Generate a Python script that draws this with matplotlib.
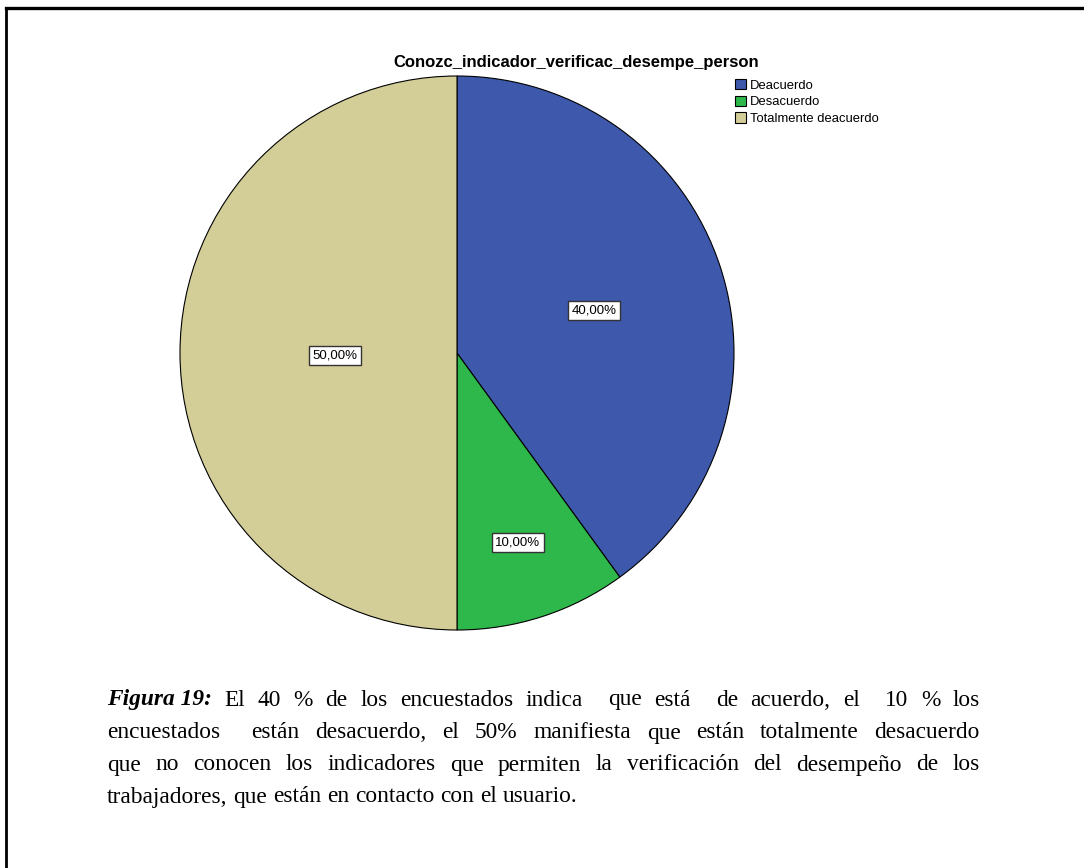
import numpy as np
import matplotlib
matplotlib.use("Agg")
import matplotlib.pyplot as plt
from matplotlib.patches import Patch
from matplotlib.lines import Line2D

# Data
categories = ["Deacuerdo", "Desacuerdo", "Totalmente deacuerdo"]
percentages = [40.0, 10.0, 50.0]
slice_colors = ["#3E58AC", "#2EB84B", "#D3CE97"]
label_distance = [0.52, 0.71, 0.44]
title_text = "Conozc_indicador_verificac_desempe_person"
caption_head = "Figura 19:"
caption_lines = [
    "El 40 % de los encuestados indica  que está  de acuerdo, el  10 % los",
    "encuestados  están desacuerdo, el 50% manifiesta que están totalmente desacuerdo",
    "que no conocen los indicadores que permiten la verificación del desempeño de los",
    "trabajadores, que están en contacto con el usuario.",
]

W, H = 1084, 868
fig = plt.figure(figsize=(W / 100, H / 100), dpi=100)
fig.patch.set_facecolor("white")

# Page frame (top and left edges)
fig.add_artist(Line2D([6 / W, 1.0], [1 - 7.5 / H, 1 - 7.5 / H], color="black", lw=2.4,
                      transform=fig.transFigure))
fig.add_artist(Line2D([6 / W, 6 / W], [0.0, 1 - 7.5 / H], color="black", lw=2.0,
                      transform=fig.transFigure))

# Pie
cx, cy, r = 457, 353, 277
ax = fig.add_axes([(cx - r) / W, (H - cy - r) / H, 2 * r / W, 2 * r / H])
wedges, _ = ax.pie(percentages, colors=slice_colors, startangle=90, counterclock=False,
                   radius=1.0, wedgeprops=dict(edgecolor="black", linewidth=0.8))
ax.set_xlim(-1.0, 1.0)
ax.set_ylim(-1.0, 1.0)
ax.set_aspect("equal")
ax.axis("off")

for w, p, d in zip(wedges, percentages, label_distance):
    ang = np.deg2rad((w.theta1 + w.theta2) / 2)
    ax.text(d * np.cos(ang), d * np.sin(ang) - 0.008, f"{p:.2f}".replace(".", ",") + "%",
            ha="center", va="center", fontsize=9.5, family="Liberation Sans",
            bbox=dict(boxstyle="square,pad=0.25", facecolor="white", edgecolor="#333333",
                      linewidth=1.0))

fig.text(576 / W, 1 - 62 / H, title_text, ha="center", va="center", fontsize=12,
         fontweight="bold", family="Liberation Sans")

handles = [Patch(facecolor=c, edgecolor="black", linewidth=0.8) for c in slice_colors]
fig.legend(handles, categories, loc="upper left", bbox_to_anchor=(735 / W, 1 - 79 / H),
           frameon=False, prop=dict(family="Liberation Sans", size=9.4),
           handlelength=0.85, handleheight=0.85, handletextpad=0.3, labelspacing=0.3,
           borderpad=0, borderaxespad=0)

# Justified caption
fig.canvas.draw()
renderer = fig.canvas.get_renderer()
fs = 16.8
x_left, x_right = 107, 980
line_y = [700, 733, 765, 797]


def width_of(s, **kw):
    t = fig.text(0, 0, s, fontsize=fs, family="Liberation Serif", **kw)
    bb = t.get_window_extent(renderer=renderer)
    t.remove()
    return bb.width


for i, (line, y) in enumerate(zip(caption_lines, line_y)):
    words = line.split(" ")
    items = []
    if i == 0:
        items.append((caption_head, dict(fontweight="bold", fontstyle="italic")))
    items += [(wd, {}) for wd in words]
    widths = [width_of(s, **kw) if s else 0.0 for s, kw in items]
    gaps = len(items) - 1
    if i < len(caption_lines) - 1:
        gap = (x_right - x_left - sum(widths)) / gaps
    else:
        gap = width_of("a b") - width_of("ab")
    x = x_left
    for (s, kw), wdt in zip(items, widths):
        if s:
            fig.text(x / W, 1 - y / H, s, fontsize=fs, family="Liberation Serif",
                     ha="left", va="center", **kw)
        x += wdt + gap

fig.savefig("out.png", dpi=100, facecolor="white")
